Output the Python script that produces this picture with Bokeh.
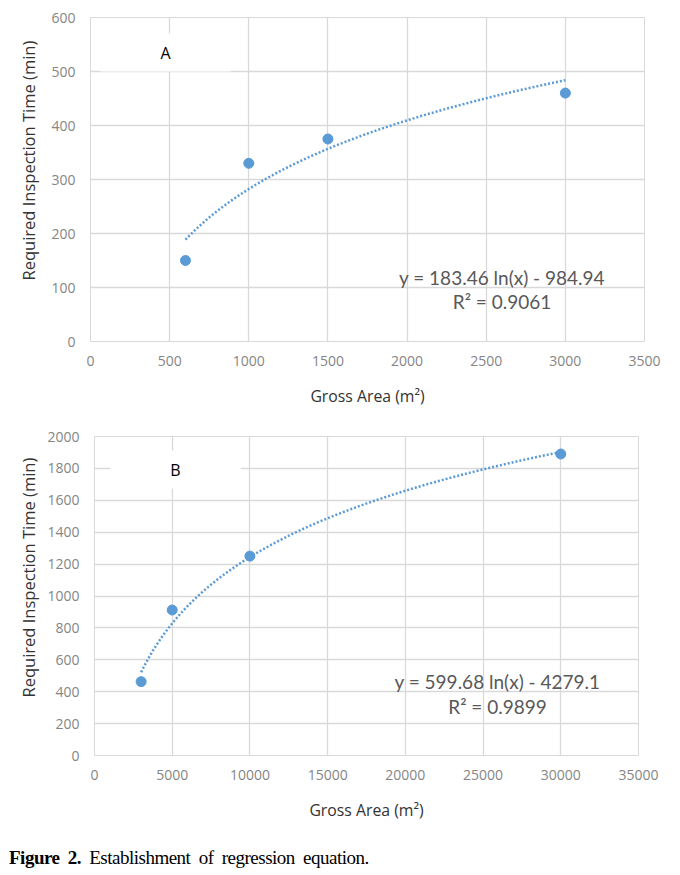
import numpy as np
from bokeh.plotting import figure
from bokeh.models import Label, Div, FixedTicker, Range1d, Title
from bokeh.layouts import column
from bokeh.embed import file_html
from bokeh.resources import INLINE

# ---- Panel A data ----
area_a = [600, 1000, 1500, 3000]
time_a = [150, 330, 375, 460]
slope_a, intercept_a = 183.46, -984.94
eq_a = "y = 183.46 ln(x) - 984.94"
r2_a = "R² = 0.9061"
xticks_a = [0, 500, 1000, 1500, 2000, 2500, 3000, 3500]
yticks_a = [0, 100, 200, 300, 400, 500, 600]

# ---- Panel B data ----
area_b = [3000, 5000, 10000, 30000]
time_b = [463, 912, 1250, 1890]
slope_b, intercept_b = 599.68, -4279.1
eq_b = "y = 599.68 ln(x) - 4279.1"
r2_b = "R² = 0.9899"
xticks_b = [0, 5000, 10000, 15000, 20000, 25000, 30000, 35000]
yticks_b = [0, 200, 400, 600, 800, 1000, 1200, 1400, 1600, 1800, 2000]

x_title = "Gross Area (m²)"
y_title = "Required Inspection Time (min)"
caption_bold = "Figure 2."
caption_rest = "Establishment of regression equation."

BLUE = "#5b9bd5"
GRID = "#d9d9d9"


def panel(xs, ys, slope, intercept, eq, r2, xticks, yticks, tag,
          height, borders, tag_pos, eq_pos, r2_pos, ystand, ytitle_shift, ytitle_standoff):
    p = figure(width=680, height=height, output_backend="svg", toolbar_location=None,
               x_range=Range1d(xticks[0], xticks[-1]), y_range=Range1d(yticks[0], yticks[-1]),
               min_border_left=borders[0], min_border_right=borders[1],
               min_border_top=borders[2], min_border_bottom=borders[3])
    p.background_fill_color = "white"
    p.border_fill_color = "white"
    p.outline_line_color = GRID
    p.xaxis.ticker = FixedTicker(ticks=xticks)
    p.yaxis.ticker = FixedTicker(ticks=yticks)
    p.xgrid.ticker = FixedTicker(ticks=xticks)
    p.ygrid.ticker = FixedTicker(ticks=yticks)
    for g in (p.xgrid, p.ygrid):
        g.grid_line_color = GRID
        g.grid_line_width = 1.3
    for ax in (p.xaxis, p.yaxis):
        ax.axis_line_color = None
        ax.major_tick_line_color = None
        ax.minor_tick_line_color = None
        ax.major_label_text_font = "Open Sans"
        ax.major_label_text_font_size = "14px"
        ax.major_label_text_color = "#858585"
        ax.axis_label_text_font = "Open Sans"
        ax.axis_label_text_font_size = "15.8px"
        ax.axis_label_text_font_style = "normal"
        ax.axis_label_text_color = "#333333"
    p.xaxis.axis_label = x_title
    p.xaxis.major_label_standoff = 8
    p.xaxis.axis_label_standoff = 16
    p.yaxis.major_label_standoff = ystand

    # y-axis title, starting a little above the frame bottom as in the original
    p.add_layout(Title(text=y_title, align="left", offset=ytitle_shift,
                       standoff=ytitle_standoff, text_font="Open Sans",
                       text_font_size="16.5px", text_font_style="normal",
                       text_color="#333333"), "left")

    # trendline from displayed regression equation
    fx = np.linspace(min(xs), max(xs), 200)
    fy = slope * np.log(fx) + intercept
    p.line(fx, fy, line_color=BLUE, line_width=2.5, line_dash="2 2")
    p.scatter(xs, ys, size=10, fill_color=BLUE, line_color=BLUE)

    p.add_layout(Label(x=tag_pos[0], y=tag_pos[1], text=tag, text_align="center",
                       text_baseline="middle", text_font="Open Sans", text_font_size="16px",
                       text_color="black", background_fill_color="white",
                       padding=dict(left=60, right=60, top=8, bottom=8)))
    p.add_layout(Label(x=eq_pos[0], y=eq_pos[1], text=eq, text_align="center",
                       text_baseline="middle", text_font="Lato", text_font_size="19px",
                       text_color="#595959"))
    p.add_layout(Label(x=r2_pos[0], y=r2_pos[1], text=r2, text_align="center",
                       text_baseline="middle", text_font="Lato", text_font_size="19px",
                       text_color="#595959"))
    return p


pa = panel(area_a, time_a, slope_a, intercept_a, eq_a, r2_a, xticks_a, yticks_a, "A",
           413, (90, 36, 17, 72), (474, 535), (2600, 118), (2600, 74), 9, 61, 17)
pb = panel(area_b, time_b, slope_b, intercept_b, eq_b, r2_b, xticks_b, yticks_b, "B",
           412, (94, 42, 23, 70), (5211, 1793), (25930, 464), (25930, 307), 9, 58, 10)

cap = Div(text=('<div style="font-family:\'Liberation Serif\',serif;font-size:19px;'
                'padding-top:14px;padding-left:4px;word-spacing:4px;letter-spacing:-0.5px;'
                'color:#000;white-space:nowrap;">'
                '<b>' + caption_bold + '</b> ' + caption_rest + '</div>'),
          width=680, height=50)

layout = column(column(pa), column(pb), cap, spacing=0)
open("out.html", "w").write(file_html(layout, INLINE))
